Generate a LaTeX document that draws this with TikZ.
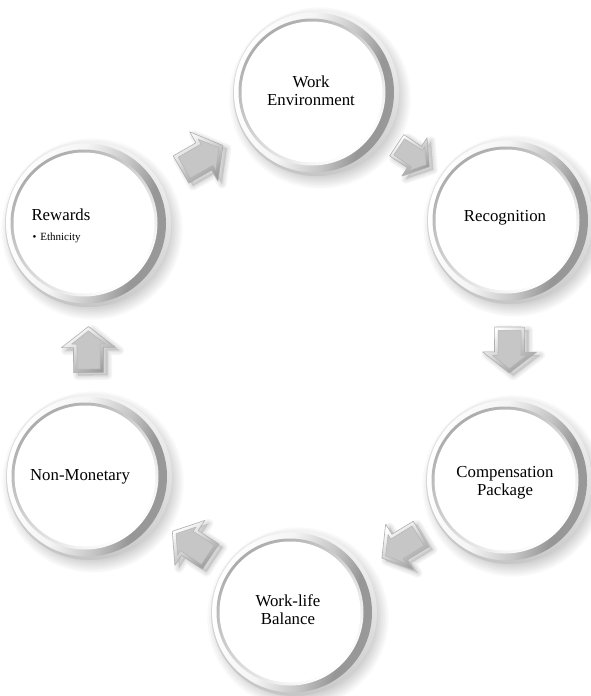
\documentclass[tikz,border=0pt]{standalone}
\usepackage{fontspec}
\setmainfont{Liberation Serif}
\usetikzlibrary{calc}

% dark band on the right-hand side of each ring
\pgfdeclarehorizontalshading{ringband}{100bp}{%
  color(0bp)=(white); color(25bp)=(white); color(44bp)=(gray!8);
  color(58bp)=(gray!45); color(68bp)=(gray!82); color(75bp)=(gray!80);
  color(100bp)=(gray!80)}

\begin{document}
\begin{tikzpicture}[x=1pt,y=-1pt,
  labeltext/.style={font=\fontsize{16.8}{18}\selectfont, align=center, text=black},
  smalltext/.style={font=\fontsize{11}{13}\selectfont, text=black},
  cyclearrow/.pic={
    \shade[draw=gray!62, line width=0.6, line join=round,
           top color=white, bottom color=gray!78, shading angle=35]
      (-23,-15) -- (2,-15) -- (2,-27) -- (23,0) -- (2,27) -- (2,15) -- (-23,15) -- cycle;
    \fill[gray!45, draw=gray!58, line width=0.5, line join=round]
      (-19.5,-11.5) -- (5.5,-11.5) -- (5.5,-16.8) -- (18.6,0) -- (5.5,16.8) -- (5.5,11.5) -- (-19.5,11.5) -- cycle;
  },
  arrowshadow/.pic={
    \foreach \w in {9,6,3}
      \filldraw[black, opacity=0.04, line width=\w, line join=round]
        (-23,-15) -- (2,-15) -- (2,-27) -- (23,0) -- (2,27) -- (2,15) -- (-23,15) -- cycle;
  }
]
\useasboundingbox (0,0) rectangle (591,696);
\fill[white] (0,0) rectangle (591,696);

% centres of the six stages
\coordinate (we)   at (312,92);
\coordinate (rec)  at (506,220);
\coordinate (comp) at (505,480);
\coordinate (wlb)  at (290,612);
\coordinate (nm)   at (85,476);
\coordinate (rew)  at (84,223);

% bevelled rings
\foreach \c in {we,rec,comp,wlb,nm,rew} {
  \foreach \i in {0,...,7}
    \fill[black, opacity=0.024] ($(\c)+(8,6)$) circle ({78+\i*1.8});
  \shade[left color=gray!10, right color=gray!45, shading angle=-15] ($(\c)+(4,1)$) circle (83);
  \shade[shading=ringband, shading angle=-15] ($(\c)+(2,0.5)$) circle (80);
  \shade[top color=gray!65, bottom color=white, shading angle=40] (\c) circle (73.5);
  \fill[white] (\c) circle (70.5);
}

% block arrows between consecutive stages
\foreach \a/\b/\s in {rew/we/1.05, we/rec/0.85, rec/comp/1, comp/wlb/1, wlb/nm/1, nm/rew/1} {
  \path let \p1=($(\b)-(\a)$), \n1={atan2(\y1,\x1)} in
    ($(\a)!0.5!(\b)+(8,3)$) pic[rotate=\n1, scale=\s]{arrowshadow}
    ($(\a)!0.5!(\b)+(4,0)$) pic[rotate=\n1, scale=\s]{cyclearrow};
}

% labels
\node[labeltext] (we-t)   at (311,91)  {Work\\Environment};
\node[labeltext] (rec-t)  at (505,218) {Recognition};
\node[labeltext] (comp-t) at (505,483) {Compensation\\Package};
\node[labeltext] (wlb-t)  at (288,610) {Work-life\\Balance};
\node[labeltext] (nm-t)   at (80,477)  {Non-Monetary};
\node[labeltext, anchor=west] (rew-t) at (28,215) {Rewards};
\node[smalltext, anchor=west] (rew-b) at (29,238) {\textbullet\hspace{4pt}Ethnicity};
\end{tikzpicture}
\end{document}
